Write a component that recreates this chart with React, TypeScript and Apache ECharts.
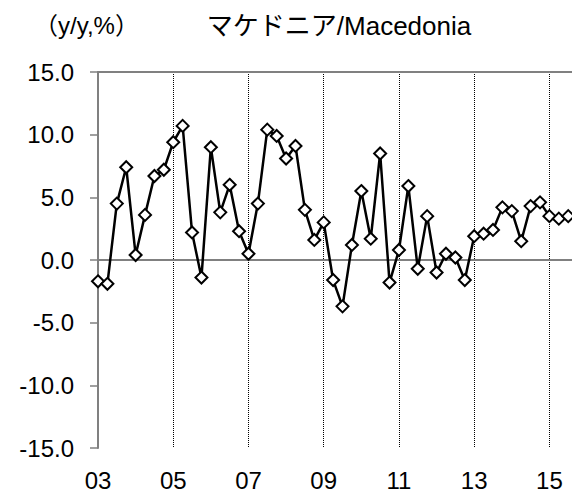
import React, { useEffect, useRef } from "react";
import * as echarts from "echarts";

// 2003Q1 .. 2015Q3, y/y %
const values = [
  -1.7, -1.9, 4.5, 7.4,
  0.4, 3.6, 6.7, 7.2,
  9.4, 10.7, 2.2, -1.4,
  9.0, 3.8, 6.0, 2.3,
  0.5, 4.5, 10.4, 9.9,
  8.1, 9.1, 4.0, 1.6,
  3.0, -1.6, -3.7, 1.2,
  5.5, 1.7, 8.5, -1.8,
  0.8, 5.9, -0.7, 3.5,
  -1.0, 0.5, 0.2, -1.6,
  1.9, 2.1, 2.4, 4.2,
  3.9, 1.5, 4.3, 4.6,
  3.5, 3.3, 3.5,
];
const xTickLabels = ["03", "05", "07", "09", "11", "13", "15"];
const titleText = "マケドニア/Macedonia";
const unitText = "（y/y,%）";

const FONT = "'Liberation Sans', Arial, 'Noto Sans CJK JP', sans-serif";

export default function App() {
  const ref = useRef<HTMLDivElement>(null);
  useEffect(() => {
    if (!ref.current) return;
    const chart = echarts.init(ref.current, null, { renderer: "svg" });
    const xBase = {
      type: "value" as const,
      min: 0,
      max: 50.4,
      interval: 8,
    };
    chart.setOption({
      animation: false,
      backgroundColor: "#ffffff",
      textStyle: { fontFamily: FONT },
      title: {
        text: titleText,
        left: 334,
        textAlign: "center",
        top: 8,
        textStyle: { fontFamily: FONT, fontSize: 26, fontWeight: "normal", color: "#000" },
      },
      graphic: [
        {
          type: "text",
          left: 34,
          top: 13,
          style: { text: unitText, font: `24px ${FONT}`, fill: "#000" },
        },
      ],
      grid: { left: 98, right: 0, top: 72, bottom: 44, containLabel: false },
      xAxis: [
        {
          ...xBase,
          position: "bottom",
          axisLine: { show: true, lineStyle: { color: "#808080", width: 2 } },
          axisTick: { show: false },
          splitLine: { show: true, lineStyle: { color: "#000", type: "dotted", width: 1 } },
          axisLabel: {
            margin: 20,
            fontSize: 24,
            fontFamily: FONT,
            color: "#000",
            showMaxLabel: false,
            formatter: (v: number) => {
              const k = Math.round(v / 8);
              return Math.abs(v - k * 8) < 1e-6 && xTickLabels[k] ? xTickLabels[k] : "";
            },
          },
        },
        {
          ...xBase,
          position: "top",
          axisLine: { show: true, lineStyle: { color: "#808080", width: 2 } },
          axisTick: { show: false },
          axisLabel: { show: false },
          splitLine: { show: false },
        },
      ],
      yAxis: {
        type: "value",
        min: -15,
        max: 15,
        interval: 5,
        axisLine: { show: true, lineStyle: { color: "#808080", width: 2 } },
        axisTick: { show: true, length: 8, lineStyle: { color: "#808080", width: 1.5 } },
        splitLine: { show: false },
        axisLabel: {
          margin: 24,
          fontSize: 24,
          fontFamily: FONT,
          color: "#000",
          formatter: (v: number) => v.toFixed(1),
        },
      },
      series: [
        {
          type: "line",
          xAxisIndex: 0,
          data: values.map((v, i) => [i, v]),
          symbol: "diamond",
          symbolSize: 12,
          showAllSymbol: true,
          lineStyle: { color: "#000", width: 2.5 },
          itemStyle: { color: "#fff", borderColor: "#000", borderWidth: 2 },
          markLine: {
            silent: true,
            symbol: "none",
            label: { show: false },
            lineStyle: { color: "#808080", type: "solid", width: 2 },
            data: [{ yAxis: 0 }],
            z: 1,
          },
        },
      ],
    });
    return () => chart.dispose();
  }, []);
  return (
    <div
      ref={ref}
      style={{ position: "fixed", left: 0, top: 0, width: 572, height: 492 }}
    />
  );
}
